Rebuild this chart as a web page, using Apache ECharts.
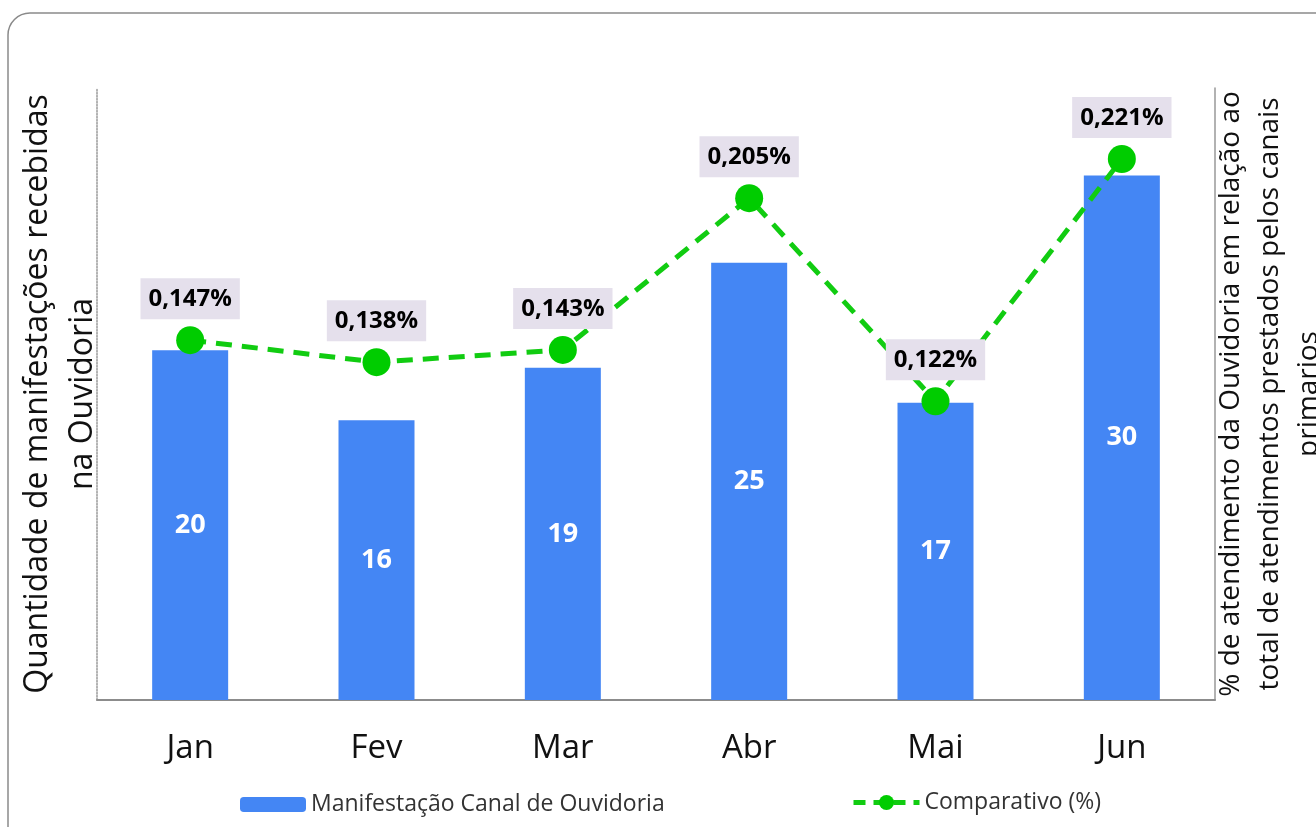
<!DOCTYPE html>
<html><head><meta charset="utf-8">
<script src="https://cdn.jsdelivr.net/npm/echarts@6/dist/echarts.min.js"></script>
<style>html,body{margin:0;padding:0;background:#fff}#c{width:1316px;height:827px}</style>
</head><body><div id="c"></div>
<script>
const categories = ['Jan','Fev','Mar','Abr','Mai','Jun'];
const manifestacoes = [20,16,19,25,17,30];
const comparativo = [0.147,0.138,0.143,0.205,0.122,0.221];
const barName = 'Manifestação Canal de Ouvidoria';
const lineName = 'Comparativo (%)';
const leftTitle = 'Quantidade de manifestações recebidas\nna Ouvidoria';
const rightTitle = '% de atendimento da Ouvidoria em relação ao\ntotal de atendimentos prestados pelos canais\nprimarios';

const FONT = '"Open Sans", sans-serif';
const chart = echarts.init(document.getElementById('c'));
chart.setOption({
  animation:false,
  textStyle:{fontFamily:FONT},
  graphic:[{type:'rect',shape:{x:8,y:13,width:1330,height:840,r:22},style:{fill:'none',stroke:'#8a8a8a',lineWidth:1.5},z:-1}],
  grid:{left:97,right:101,top:88,bottom:127,outerBoundsMode:'none',containLabel:false},
  legend:[
    {data:[barName],left:240,top:793,padding:0,itemWidth:66,itemHeight:15,itemGap:10,
     itemStyle:{borderRadius:0},textStyle:{fontSize:23,color:'#333',fontFamily:FONT}},
    {data:[lineName],left:851,top:791,padding:0,itemWidth:66,itemHeight:19,
     lineStyle:{width:5,type:[12,8]},textStyle:{fontSize:23,color:'#333',fontFamily:FONT}}
  ],
  xAxis:{type:'category',data:categories,
    axisLine:{lineStyle:{color:'#8c8c8c',width:2}},axisTick:{show:false},
    axisLabel:{fontSize:33,color:'#111',margin:32,fontFamily:FONT}},
  yAxis:[
    {type:'value',min:0,max:35,interval:5,position:'left',
     name:leftTitle,nameLocation:'middle',nameGap:-8,
     nameTextStyle:{fontSize:32,color:'#111',lineHeight:45,fontFamily:FONT},
     axisLine:{show:true,lineStyle:{color:'#999',type:'dotted',width:1.5}},
     axisLabel:{show:false},axisTick:{show:false},splitLine:{show:false}},
    {type:'value',min:0,max:0.25,interval:0.05,position:'right',
     name:rightTitle,nameLocation:'middle',nameGap:-3,
     nameTextStyle:{fontSize:28,color:'#111',lineHeight:39,fontFamily:FONT},
     axisLine:{show:true,lineStyle:{color:'#999',width:1.5}},
     axisLabel:{show:false},axisTick:{show:false},splitLine:{show:false}}
  ],
  series:[
    {name:barName,type:'bar',data:manifestacoes,barWidth:76,yAxisIndex:0,
     itemStyle:{color:'#4486F4'},
     label:{show:true,position:'inside',color:'#fff',fontWeight:'bold',fontSize:27,fontFamily:FONT}},
    {name:lineName,type:'line',data:comparativo,yAxisIndex:1,z:3,
     symbol:'circle',symbolSize:28,
     lineStyle:{color:'#11cc11',width:5,type:[16,10]},
     itemStyle:{color:'#00cc00'},
     label:{show:true,position:'top',distance:7,
       formatter:p=>p.value.toFixed(3).replace('.',',')+'%',
       backgroundColor:'#e5e0ec',padding:[9,8,8,8],
       color:'#000',fontWeight:'bold',fontSize:24,fontFamily:FONT}}
  ]
});
</script></body></html>
